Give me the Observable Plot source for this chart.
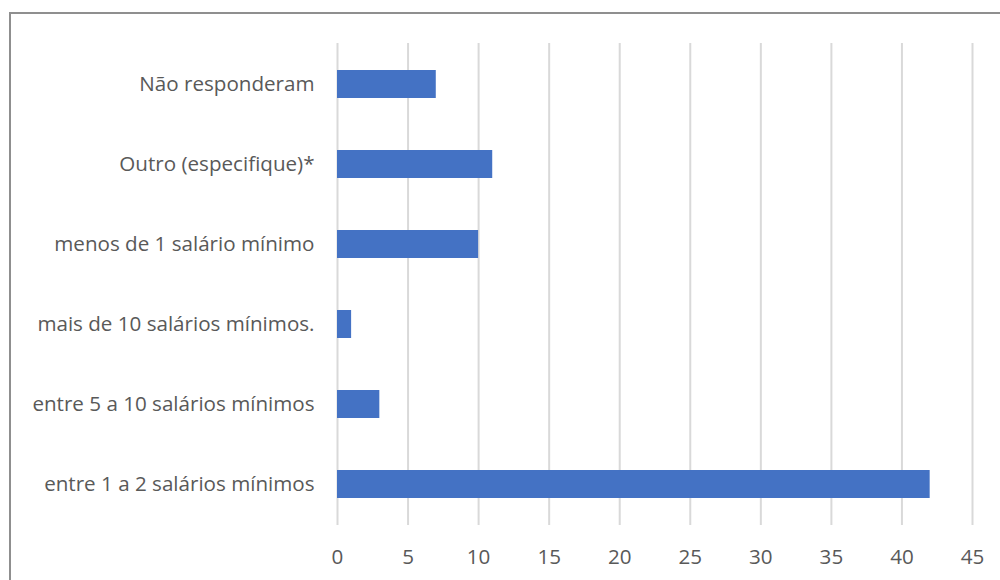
<!DOCTYPE html>
<html>
<head>
<meta charset="utf-8">
<script src="https://cdn.jsdelivr.net/npm/d3@7"></script>
<script src="https://cdn.jsdelivr.net/npm/@observablehq/plot@0.6"></script>
<style>
  html, body { margin: 0; padding: 0; background: #fff; overflow: hidden; }
  #wrap { position: relative; width: 1000px; height: 580px; }
  #frame { position: absolute; left: 9px; top: 12px; width: 1100px; height: 700px; border-left: 2px solid #8f8f8f; border-top: 2px solid #8f8f8f; box-sizing: border-box; }
  #chart { position: absolute; left: 0; top: 0; }
</style>
</head>
<body>
<div id="wrap"><div id="frame"></div><div id="chart"></div></div>
<script>
const categories = [
  "Não responderam",
  "Outro (especifique)*",
  "menos de 1 salário mínimo",
  "mais de 10 salários mínimos.",
  "entre 5 a 10 salários mínimos",
  "entre 1 a 2 salários mínimos"
];
const values = [7, 11, 10, 1, 3, 42];
const xTicks = [0, 5, 10, 15, 20, 25, 30, 35, 40, 45];

const data = categories.map((c, i) => ({category: c, value: values[i]}));

const chart = Plot.plot({
  width: 1000,
  height: 580,
  marginLeft: 337,
  marginRight: 28,
  marginTop: 43,
  marginBottom: 55,
  style: {fontFamily: "'Open Sans', sans-serif", fontSize: "20.6px", color: "#595959", background: "transparent"},
  x: {domain: [0, 45], ticks: xTicks},
  y: {domain: categories, paddingInner: 0.65, paddingOuter: 0.325, label: null},
  marks: [
    Plot.gridX(xTicks, {stroke: "#d9d9d9", strokeWidth: 2, strokeOpacity: 1}),
    Plot.barX(data, {x: "value", y: "category", fill: "#4472c4"}),
    Plot.axisX({ticks: xTicks, tickSize: 0, tickPadding: 24, label: null, fill: "#595959"}),
    Plot.axisY({tickSize: 0, tickPadding: 23, label: null, fill: "#595959"})
  ]
});
document.getElementById("chart").appendChild(chart);
</script>
</body>
</html>
